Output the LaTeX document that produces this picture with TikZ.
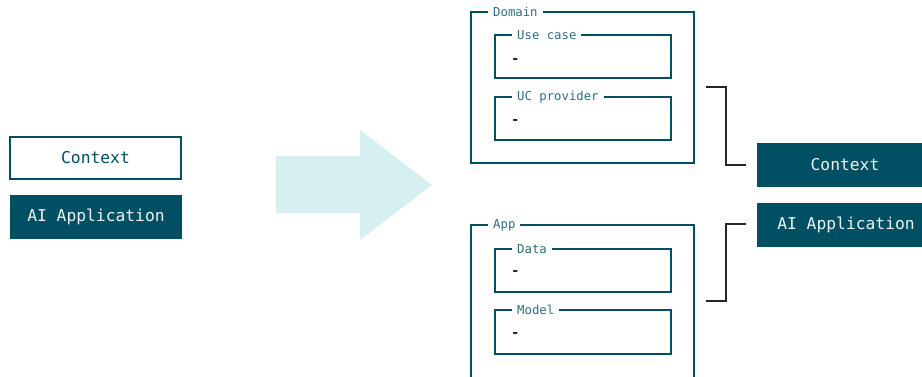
\documentclass[tikz,border=0pt]{standalone}
\usepackage{fontspec}
\newfontfamily\monofont{DejaVu Sans Mono}
\definecolor{teal}{HTML}{014F62}
\definecolor{labelteal}{HTML}{2F6E7E}
\definecolor{paleaqua}{HTML}{D6EFF0}
\definecolor{ink}{HTML}{262626}
\definecolor{offwhite}{HTML}{EEF4F5}
\tikzset{
  bigtext/.style={font=\monofont\fontsize{16.3}{18}\selectfont},
  outlinebox/.style={draw=teal, line width=2.5pt, fill=white, text=teal, bigtext,
    minimum width=171pt, minimum height=42pt, inner sep=0pt},
  filledbox/.style={fill=teal, text=offwhite, bigtext,
    minimum height=44pt, inner sep=0pt},
  frame/.style={draw=teal, line width=2.5pt},
  tag/.style={fill=white, text=labelteal, font=\monofont\fontsize{12.3}{14}\selectfont,
    inner xsep=5pt, inner ysep=1pt, anchor=west},
  placeholder/.style={text=ink, font=\monofont\bfseries\fontsize{14}{16}\selectfont,
    inner sep=0pt, anchor=west},
  bracket/.style={draw=ink, line width=2.5pt}
}
\begin{document}
\begin{tikzpicture}[x=1pt, y=-1pt]
  \useasboundingbox (0,0) rectangle (922,376);
  \clip (0,0) rectangle (922,376);

  % starting point: two plain blocks
  \node[outlinebox] (ctxL) at (95.5,158) {Context};
  \node[filledbox, minimum width=172pt] (aiL) at (96,217) {AI Application};

  % transformation arrow
  \fill[paleaqua] (276,156) -- (360,156) -- (360,130) -- (432,185)
    -- (360,240) -- (360,213) -- (276,213) -- cycle;

  % Domain layer
  \draw[frame] (471,12) rectangle (694,163);
  \node[tag] (domainTag) at (488,12) {Domain};
  \draw[frame] (495,35) rectangle (671,78);
  \node[tag] (usecaseTag) at (512,35) {Use case};
  \node[placeholder] (usecaseDash) at (511,61) {-};
  \draw[frame] (495,97) rectangle (671,140);
  \node[tag] (ucpTag) at (512,97) {UC provider};
  \node[placeholder] (ucpDash) at (511,122) {-};

  % App layer
  \draw[frame] (471,385) -- (471,225) -- (694,225) -- (694,385);
  \node[tag] (appTag) at (488,225) {App};
  \draw[frame] (495,249) rectangle (671,292);
  \node[tag] (dataTag) at (512,249) {Data};
  \node[placeholder] (dataDash) at (511,273) {-};
  \draw[frame] (495,310) rectangle (671,354);
  \node[tag] (modelTag) at (512,310) {Model};
  \node[placeholder] (modelDash) at (511,335) {-};

  % resulting blocks
  \node[filledbox, minimum width=180pt, anchor=west] (ctxR) at (757,165) {};
  \node[bigtext, text=offwhite] (ctxRText) at (845,165) {Context};
  \node[filledbox, minimum width=180pt, anchor=west] (aiR) at (757,225) {};
  \node[bigtext, text=offwhite] (aiRText) at (846,225) {AI Application};

  % brackets tying each layer to its block
  \coordinate (b1s) at (706,87);
  \coordinate (b1e) at (746,165);
  \coordinate (b2s) at (746,224);
  \coordinate (b2e) at (706,301);
  \draw[bracket] (b1s) -- (726,87) -- (726,165) -- (b1e);
  \draw[bracket] (b2s) -- (726,224) -- (726,301) -- (b2e);
\end{tikzpicture}
\end{document}
